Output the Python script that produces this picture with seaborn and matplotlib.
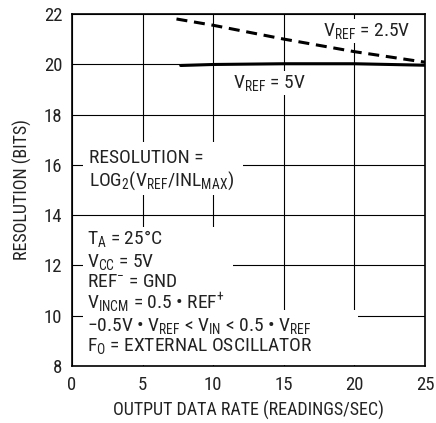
import pandas as pd
import matplotlib
matplotlib.use("Agg")
import matplotlib.pyplot as plt
import seaborn as sns
from matplotlib import font_manager
from matplotlib.patches import Rectangle

# data
rate_vref25 = [7.4, 10, 15, 20, 25]
res_vref25 = [21.8, 21.55, 21.0, 20.5, 20.08]
rate_vref5 = [7.7, 10, 15, 20, 25]
res_vref5 = [19.95, 19.99, 20.02, 20.02, 19.96]
x_ticks = [0, 5, 10, 15, 20, 25]
y_ticks = [8, 10, 12, 14, 16, 18, 20, 22]

df = pd.concat([
    pd.DataFrame({"rate": rate_vref25, "res": res_vref25, "vref": "2.5V"}),
    pd.DataFrame({"rate": rate_vref5, "res": res_vref5, "vref": "5V"}),
])

# pick a narrow sans if one is installed
names = {f.name for f in font_manager.fontManager.ttflist}
narrow = [n for n in ["Liberation Sans Narrow", "Roboto Condensed", "Noto Sans Condensed",
                      "Open Sans Condensed", "DejaVu Sans Condensed"] if n in names]
main = narrow[0] if narrow else "Liberation Sans"
scale = 1.0 if narrow else 0.85

sns.set_theme(style="white")
plt.rcParams["font.family"] = [main, "DejaVu Sans"]
plt.rcParams["mathtext.fontset"] = "custom"
plt.rcParams["mathtext.rm"] = main
plt.rcParams["mathtext.it"] = main
plt.rcParams["mathtext.default"] = "regular"

fig = plt.figure(figsize=(4.36, 4.23), dpi=100)
ax = fig.add_axes([0.165, 0.135, 0.81, 0.832])

sns.lineplot(data=df, x="rate", y="res", hue="vref", style="vref",
             palette={"2.5V": "black", "5V": "black"},
             dashes={"2.5V": (3.6, 2.2), "5V": ""},
             linewidth=2.2, legend=False, ax=ax, zorder=3)

ax.set_xlim(0, 25)
ax.set_ylim(8, 22)
ax.set_xticks(x_ticks)
ax.set_yticks(y_ticks)
ax.grid(True, color="black", linewidth=0.8)
ax.set_axisbelow(True)
ax.tick_params(length=0, labelsize=13.5 * scale, colors="#222222", pad=7)
for s in ax.spines.values():
    s.set_color("black")
    s.set_linewidth(1.2)

ax.set_xlabel("OUTPUT DATA RATE (READINGS/SEC)", fontsize=13 * scale, color="#222222", labelpad=5)
ax.set_ylabel("RESOLUTION (BITS)", fontsize=13 * scale, color="#222222", labelpad=8)

# white masks behind the note blocks
for (x0, y0, w, h) in [(0.78, 14.8, 11.3, 2.1), (0.78, 10.23, 10.6, 3.3), (0.78, 8.05, 19.5, 2.18)]:
    ax.add_patch(Rectangle((x0, y0), w, h, facecolor="white", edgecolor="none", zorder=1))

txt = dict(fontsize=14 * scale, color="#222222", va="center", ha="left", zorder=4)
box = dict(facecolor="white", edgecolor="none", pad=1.5)
ax.text(17.8, 21.32, "V$_{REF}$ = 2.5V", bbox=box, **txt)
ax.text(11.4, 19.25, "V$_{REF}$ = 5V", bbox=box, **txt)

ax.text(1.2, 16.27, "RESOLUTION =", **txt)
ax.text(1.2, 15.35, "LOG$_2$(V$_{REF}$/INL$_{MAX}$)", **txt)

notes = [
    "T$_A$ = 25°C",
    "V$_{CC}$ = 5V",
    "REF$^{-}$ = GND",
    "V$_{INCM}$ = 0.5 • REF$^{+}$",
    "−0.5V • V$_{REF}$ < V$_{IN}$ < 0.5 • V$_{REF}$",
    "F$_O$ = EXTERNAL OSCILLATOR",
]
note_y = [13.05, 12.15, 11.35, 10.5, 9.6, 8.8]
for s, y in zip(notes, note_y):
    ax.text(1.1, y, s, **txt)

fig.savefig("out.png", dpi=100)
